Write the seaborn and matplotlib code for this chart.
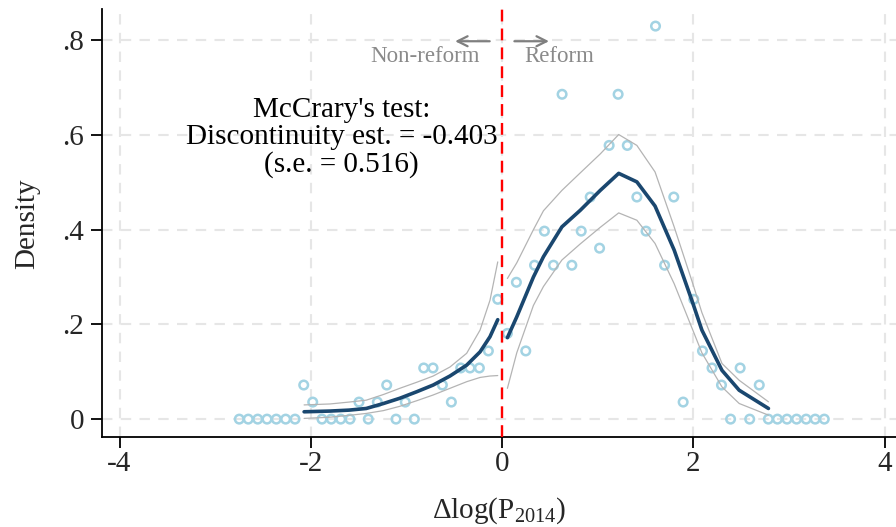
import numpy as np
import pandas as pd
import matplotlib
matplotlib.use("Agg")
import matplotlib.pyplot as plt
import seaborn as sns

# ---- data ----
left_bin_x = [-2.748, -2.654, -2.555, -2.458, -2.361, -2.263, -2.165, -2.074, -1.980,
              -1.883, -1.786, -1.687, -1.590, -1.496, -1.399, -1.304, -1.206, -1.109,
              -1.012, -0.917, -0.819, -0.722, -0.624, -0.530, -0.432, -0.335, -0.237,
              -0.143, -0.045]
left_bin_y = [0, 0, 0, 0, 0, 0, 0, 0.072, 0.036,
              0, 0, 0, 0, 0.036, 0, 0.036, 0.072, 0,
              0.036, 0, 0.108, 0.108, 0.072, 0.036, 0.108, 0.108, 0.108,
              0.144, 0.253]
right_bin_x = [0.056, 0.150, 0.248, 0.340, 0.443, 0.538, 0.628, 0.730, 0.828, 0.922,
               1.020, 1.120, 1.214, 1.310, 1.410, 1.506, 1.605, 1.700, 1.796, 1.894,
               2.005, 2.096, 2.196, 2.295, 2.390, 2.490, 2.590, 2.690, 2.785, 2.880,
               2.980, 3.080, 3.180, 3.275, 3.370]
right_bin_y = [0.181, 0.289, 0.144, 0.325, 0.397, 0.325, 0.686, 0.325, 0.397, 0.469,
               0.361, 0.578, 0.686, 0.578, 0.469, 0.397, 0.830, 0.325, 0.469, 0.036,
               0.253, 0.144, 0.108, 0.072, 0, 0.108, 0, 0.072, 0, 0,
               0, 0, 0, 0, 0]

left_fit_x = [-2.07, -1.80, -1.60, -1.42, -1.24, -1.07, -0.89, -0.72, -0.545, -0.37, -0.23, -0.126, -0.045]
left_fit = [0.0155, 0.017, 0.019, 0.0225, 0.033, 0.044, 0.058, 0.072, 0.091, 0.114, 0.142, 0.174, 0.210]
left_hi = [0.030, 0.032, 0.036, 0.040, 0.052, 0.065, 0.078, 0.091, 0.110, 0.139, 0.188, 0.251, 0.332]
left_lo = [0.0015, 0.004, 0.008, 0.012, 0.018, 0.027, 0.039, 0.051, 0.065, 0.079, 0.088, 0.091, 0.092]

right_fit_x = [0.056, 0.154, 0.328, 0.433, 0.626, 0.818, 1.027, 1.22, 1.41, 1.60, 1.80, 1.995, 2.09, 2.30, 2.48, 2.786]
right_fit = [0.172, 0.216, 0.300, 0.343, 0.406, 0.441, 0.483, 0.519, 0.501, 0.450, 0.357, 0.245, 0.188, 0.103, 0.061, 0.0225]
right_hi = [0.297, 0.330, 0.400, 0.440, 0.483, 0.520, 0.560, 0.601, 0.578, 0.522, 0.406, 0.286, 0.225, 0.1175, 0.082, 0.0366]
right_lo = [0.065, 0.140, 0.240, 0.280, 0.336, 0.370, 0.405, 0.4355, 0.420, 0.371, 0.286, 0.188, 0.140, 0.068, 0.033, 0.0084]

x_ticks = [-4, -2, 0, 2, 4]
x_tick_labels = ["-4", "-2", "0", "2", "4"]
y_ticks = [0, 0.2, 0.4, 0.6, 0.8]
y_tick_labels = ["0", ".2", ".4", ".6", ".8"]

# ---- style ----
sns.set_style("white")
plt.rcParams["font.family"] = ["Liberation Serif", "DejaVu Serif"]
plt.rcParams["mathtext.fontset"] = "custom"
plt.rcParams["mathtext.rm"] = "Liberation Serif"
plt.rcParams["mathtext.it"] = "Liberation Serif:italic"
plt.rcParams["axes.unicode_minus"] = False

FS = 21
dot_color = "#a3d3e3"
fit_color = "#1a476f"
ci_color = "#b4b4b4"
grid_color = "#e6e6e6"

fig = plt.figure(figsize=(8.96, 5.27), dpi=100)
ax = fig.add_axes([0.1138, 0.1702, 0.8862, 0.8122])

# grid
for yv in y_ticks:
    ax.axhline(yv, color=grid_color, lw=1.5, ls=(0, (5, 4)), zorder=0)
for xv in x_ticks:
    ax.axvline(xv, color=grid_color, lw=1.5, ls=(0, (5, 4)), zorder=0)

bins = pd.DataFrame({"x": left_bin_x + right_bin_x, "y": left_bin_y + right_bin_y})
sns.scatterplot(data=bins, x="x", y="y", ax=ax, marker="o", s=38,
                facecolor="none", edgecolor=dot_color, linewidth=1.8, zorder=3)

for xs, lo, hi, fit in [(left_fit_x, left_lo, left_hi, left_fit),
                        (right_fit_x, right_lo, right_hi, right_fit)]:
    sns.lineplot(x=xs, y=hi, ax=ax, color=ci_color, lw=0.9, sort=False, estimator=None, zorder=4)
    sns.lineplot(x=xs, y=lo, ax=ax, color=ci_color, lw=0.9, sort=False, estimator=None, zorder=4)
    sns.lineplot(x=xs, y=fit, ax=ax, color=fit_color, lw=2.6, sort=False, estimator=None, zorder=5)

ax.axvline(0, color="#ff0000", lw=1.7, ls=(0, (5, 3)), zorder=6)

# arrows and labels
arrow_kw = dict(arrowstyle="->", color="#7f7f7f", lw=1.6, mutation_scale=18)
ax.annotate("", xy=(-0.52, 0.798), xytext=(-0.1, 0.798), arrowprops=arrow_kw)
ax.annotate("", xy=(0.52, 0.798), xytext=(0.1, 0.798), arrowprops=arrow_kw)
ax.text(-0.23, 0.766, "Non-reform", ha="right", va="center", fontsize=16.5, color="#8a8a8a")
ax.text(0.23, 0.766, "Reform", ha="left", va="center", fontsize=16.5, color="#8a8a8a")

ax.text(-1.68, 0.594, "McCrary's test:\nDiscontinuity est. = -0.403\n(s.e. = 0.516)",
        ha="center", va="center", fontsize=FS, linespacing=1.05, color="black")

ax.set_xlim(-4.184, 4.12)
ax.set_ylim(-0.0384, 0.8655)
ax.set_xticks(x_ticks)
ax.set_xticklabels(x_tick_labels)
ax.set_yticks(y_ticks)
ax.set_yticklabels(y_tick_labels)
ax.tick_params(axis="both", which="major", labelsize=FS, length=8, width=1.3,
               direction="out", color="black", left=True, bottom=True)
ax.tick_params(axis="x", pad=2)
ax.tick_params(axis="y", pad=5)
for side in ["top", "right"]:
    ax.spines[side].set_visible(False)
for side in ["left", "bottom"]:
    ax.spines[side].set_color("black")
    ax.spines[side].set_linewidth(1.3)

ax.set_xlabel(r"Δlog(P$_{2014}$)", fontsize=FS, labelpad=13)
ax.set_ylabel("Density", fontsize=FS, labelpad=16)
ax.grid(False)

fig.savefig("out.png", dpi=100)
